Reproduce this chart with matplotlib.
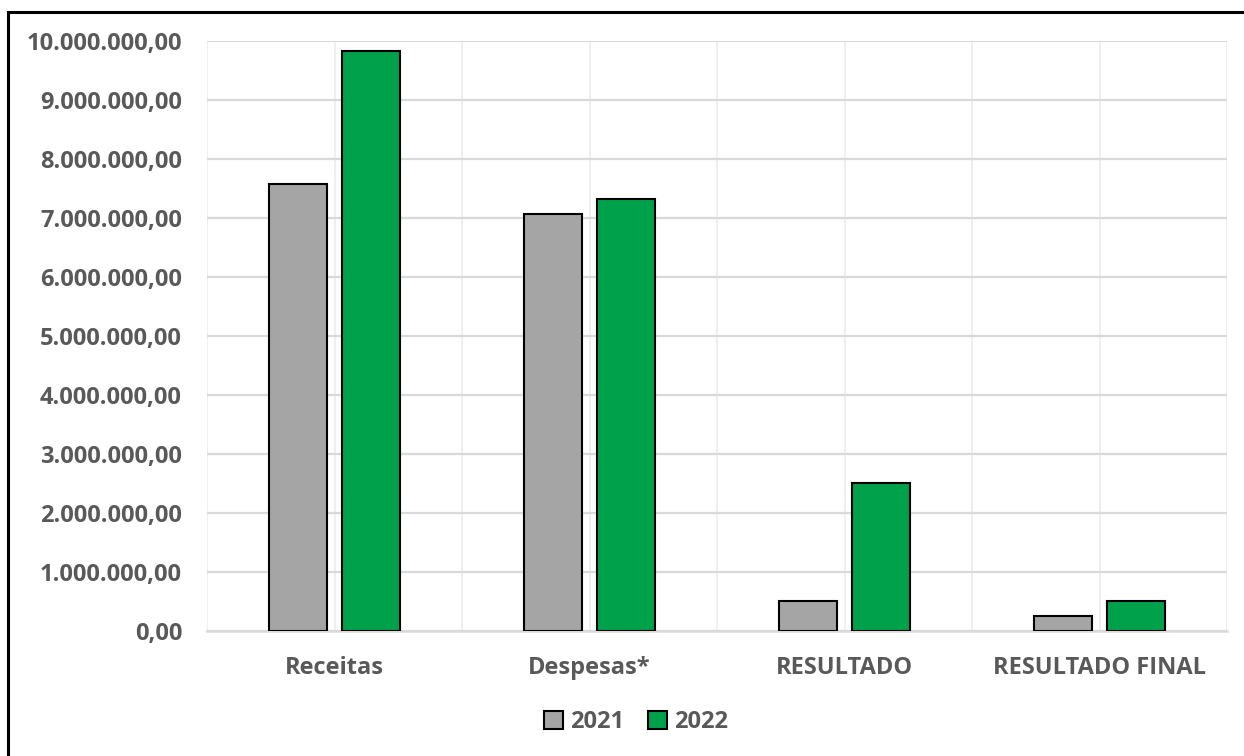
import matplotlib.pyplot as plt
from matplotlib.patches import Rectangle
from matplotlib.ticker import FuncFormatter, FixedLocator
import numpy as np

# data
categorias = ["Receitas", "Despesas*", "RESULTADO", "RESULTADO FINAL"]
valores_2021 = [7570000, 7060000, 500000, 250000]
valores_2022 = [9820000, 7320000, 2510000, 500000]
anos = ["2021", "2022"]

cor_cinza = "#A5A5A5"
cor_verde = "#00A14B"
cor_texto = "#595959"

plt.rcParams['font.family'] = ['Open Sans', 'DejaVu Sans']
plt.rcParams['font.weight'] = 'bold'

fig = plt.figure(figsize=(12.44, 7.56), dpi=100)
ax = fig.add_axes([207 / 1244, 1 - 630.7 / 756, 1020 / 1244, 590 / 756])

x = np.arange(len(categorias))
largura = 0.227
ax.bar(x + 0.357, valores_2021, largura, align='center', color=cor_cinza,
       edgecolor='black', linewidth=1.5, label=anos[0], zorder=3)
ax.bar(x + 0.643, valores_2022, largura, align='center', color=cor_verde,
       edgecolor='black', linewidth=1.5, label=anos[1], zorder=3)

ax.set_xlim(0, len(categorias))
ax.set_ylim(0, 10000000)
ax.set_yticks(np.arange(0, 10000001, 1000000))


def fmt_br(v, pos):
    s = f"{v:,.2f}"
    return s.replace(",", "X").replace(".", ",").replace("X", ".")


ax.yaxis.set_major_formatter(FuncFormatter(fmt_br))
ax.set_xticks(x + 0.5)
ax.set_xticklabels(categorias)
ax.xaxis.set_minor_locator(FixedLocator(np.arange(0, len(categorias) + 1, 1.0)))

ax.tick_params(axis='both', which='both', length=0, labelsize=17, colors=cor_texto)
ax.tick_params(axis='y', pad=18)
ax.tick_params(axis='x', pad=18.5)

ax.grid(axis='y', color='#D9D9D9', linewidth=1.6, zorder=0)
ax.grid(axis='x', which='both', color='#EEEEEE', linewidth=1.3, zorder=0)

for lado in ['top', 'right', 'left']:
    ax.spines[lado].set_visible(False)
ax.spines['bottom'].set_color('#D9D9D9')
ax.spines['bottom'].set_linewidth(1.8)

leg = fig.legend(loc='center', bbox_to_anchor=(636 / 1244, 1 - 722 / 756), ncol=2,
                 frameon=False, fontsize=17, handlelength=0.8, handleheight=0.8,
                 handletextpad=0.3, columnspacing=1.0)
for t in leg.get_texts():
    t.set_color(cor_texto)

# moldura preta (só topo e esquerda visíveis no recorte)
fig.patches.append(Rectangle((8 / 1244, -0.1), 1.2, 1 - 12 / 756 + 0.1,
                             transform=fig.transFigure, fill=False,
                             edgecolor='black', linewidth=2.2))

fig.savefig("out.png", dpi=100, facecolor='white')
